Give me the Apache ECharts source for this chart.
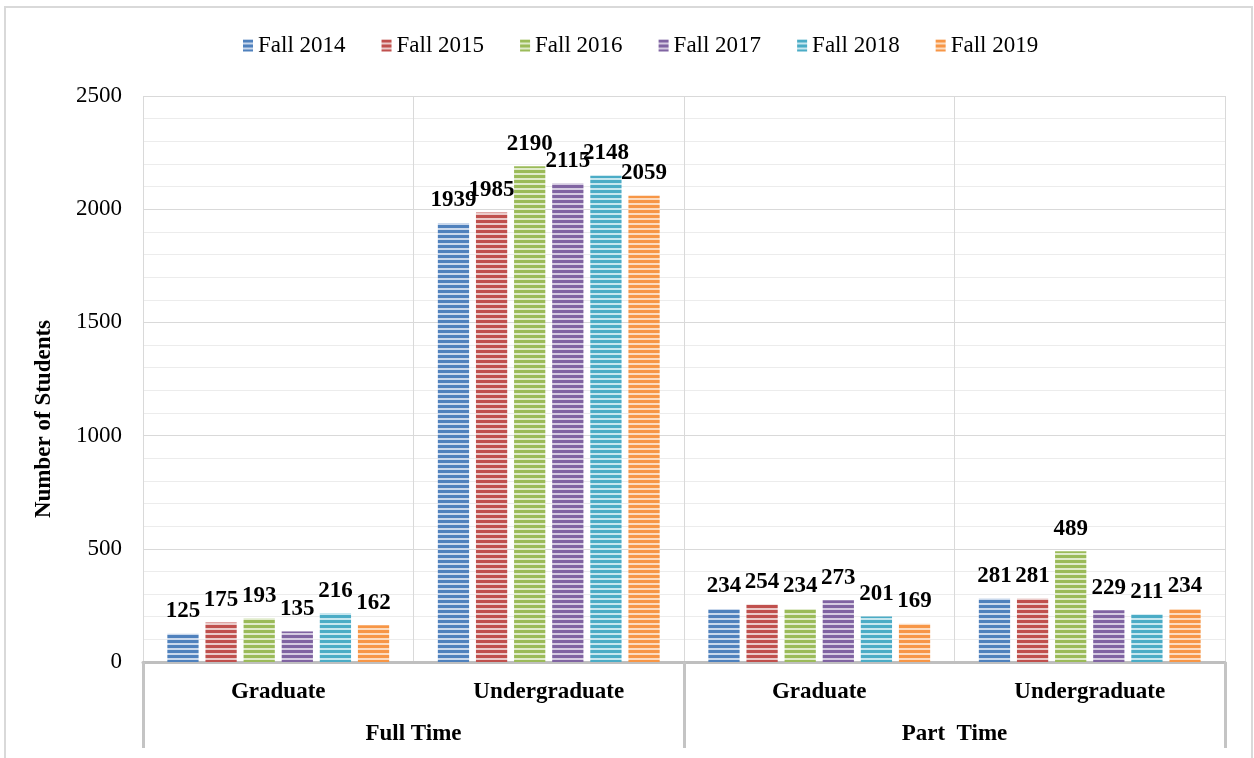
<!DOCTYPE html>
<html>
<head>
<meta charset="utf-8">
<script src="https://cdn.jsdelivr.net/npm/echarts@6/dist/echarts.min.js"></script>
<style>
html,body{margin:0;padding:0;background:#fff;}
#c{width:1254px;height:758px;}
</style>
</head>
<body>
<div id="c"></div>
<script>
const categories = ['Graduate', 'Undergraduate', 'Graduate', 'Undergraduate'];
const groups = ['Full Time', 'Part  Time'];
const seriesNames = ['Fall 2014', 'Fall 2015', 'Fall 2016', 'Fall 2017', 'Fall 2018', 'Fall 2019'];
const fall2014 = [125, 1939, 234, 281];
const fall2015 = [175, 1985, 254, 281];
const fall2016 = [193, 2190, 234, 489];
const fall2017 = [135, 2115, 273, 229];
const fall2018 = [216, 2148, 201, 211];
const fall2019 = [162, 2059, 169, 234];
const seriesValues = [fall2014, fall2015, fall2016, fall2017, fall2018, fall2019];
const colors = ['#4f81bd', '#c0504d', '#9bbb59', '#8064a2', '#4bacc6', '#f79646'];
const lights = ['#c9d8ec', '#ebcac9', '#e0ebcb', '#d5cbe1', '#c7e7ef', '#fcdcc0'];

function stripe(c, l) {
  const cv = document.createElement('canvas');
  cv.width = 4; cv.height = 5;
  const ctx = cv.getContext('2d');
  ctx.fillStyle = c; ctx.fillRect(0, 0, 4, 5);
  ctx.fillStyle = l; ctx.fillRect(0, 3, 4, 2);
  return cv;
}

const FONT = '"Liberation Serif", "Times New Roman", serif';
const chart = echarts.init(document.getElementById('c'), null, {renderer: 'canvas'});

const series = seriesNames.map((n, i) => ({
  name: n,
  type: 'bar',
  data: seriesValues[i],
  barGap: '22%',
  barCategoryGap: '18%',
  itemStyle: {color: {image: stripe(colors[i], lights[i]), repeat: 'repeat'}},
  label: {
    show: true, position: 'top', distance: 11,
    color: '#000', fontFamily: FONT, fontWeight: 'bold', fontSize: 23
  }
}));

chart.setOption({
  animation: false,
  backgroundColor: '#fff',
  textStyle: {fontFamily: FONT},
  legend: {
    top: 29, left: 238, itemWidth: 10, itemHeight: 12, itemGap: 36,
    icon: 'rect',
    textStyle: {fontFamily: FONT, fontSize: 23, color: '#000'},
    data: seriesNames
  },
  grid: {left: 143, right: 29, top: 96, bottom: 96},
  xAxis: [{
    type: 'category', data: categories, position: 'bottom',
    axisLine: {lineStyle: {color: '#bfbfbf', width: 3}},
    axisTick: {show: false},
    splitLine: {show: true, interval: 0, lineStyle: {color: '#d9d9d9', width: 1}},
    axisLabel: {interval: 0, margin: 19, color: '#000', fontFamily: FONT, fontWeight: 'bold', fontSize: 23}
  }, {
    type: 'category', data: groups, position: 'bottom',
    axisLine: {show: false},
    axisTick: {show: true, length: 86, lineStyle: {color: '#c4c4c4', width: 3}},
    axisLabel: {interval: 0, margin: 61, color: '#000', fontFamily: FONT, fontWeight: 'bold', fontSize: 23}
  }],
  yAxis: {
    type: 'value', min: 0, max: 2500, interval: 500,
    axisLine: {show: false}, axisTick: {show: false},
    axisLabel: {margin: 21, color: '#000', fontFamily: FONT, fontSize: 23, formatter: v => String(v)},
    splitLine: {lineStyle: {color: '#d9d9d9', width: 1}},
    minorTick: {show: false, splitNumber: 5},
    minorSplitLine: {show: true, lineStyle: {color: '#ececec', width: 1}}
  },
  graphic: [{
    type: 'rect', silent: true, z: -1,
    shape: {x: 5, y: 7, width: 1247, height: 770},
    style: {fill: null, stroke: '#d9d9d9', lineWidth: 2}
  }, {
    type: 'text', x: 44, y: 419, rotation: Math.PI / 2,
    style: {text: 'Number of Students', font: 'bold 23px ' + FONT, fill: '#000', align: 'center', verticalAlign: 'middle'}
  }],
  series: series
});
</script>
</body>
</html>
